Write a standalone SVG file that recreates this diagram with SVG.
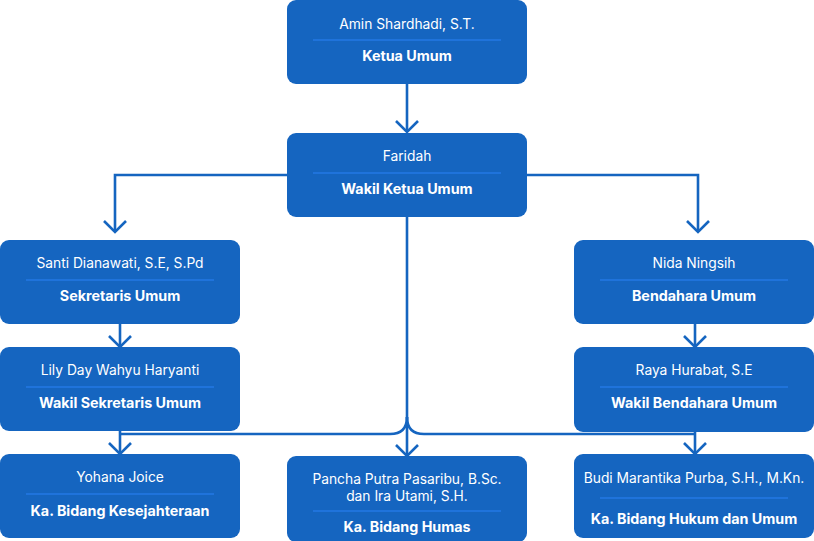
<svg xmlns="http://www.w3.org/2000/svg" width="814" height="541" viewBox="0 0 814 541">
<defs>
<style>
.box{fill:#1565C0;}
.sep{stroke:#2A82F5;stroke-width:1.2;}
.nm{font-family:Inter,"Open Sans","DejaVu Sans",sans-serif;font-size:13.8px;fill:#ffffff;text-anchor:middle;dominant-baseline:central;}
.rl{font-family:Inter,"Open Sans","DejaVu Sans",sans-serif;font-size:14.3px;font-weight:700;fill:#ffffff;text-anchor:middle;dominant-baseline:central;}
.ln{fill:none;stroke:#1565C0;stroke-width:2.6;}
</style>
<marker id="ah" viewBox="0 0 14 24" refX="12" refY="12" markerWidth="14" markerHeight="24" markerUnits="userSpaceOnUse" orient="auto">
<path d="M1 1 L12 12 L1 23" fill="none" stroke="#1565C0" stroke-width="2.6"/>
</marker>
</defs>
<rect width="814" height="541" fill="#ffffff"/>
<g id="connectors">
<path class="ln" d="M407 84 V132" marker-end="url(#ah)"/>
<path class="ln" d="M287 175 H115 V232" marker-end="url(#ah)"/>
<path class="ln" d="M527 175 H698 V232" marker-end="url(#ah)"/>
<path class="ln" d="M120 324 V347" marker-end="url(#ah)"/>
<path class="ln" d="M695 324 V347" marker-end="url(#ah)"/>
<path class="ln" d="M120 431 V454" marker-end="url(#ah)"/>
<path class="ln" d="M695 432 V454" marker-end="url(#ah)"/>
<path class="ln" d="M407 217 V456" marker-end="url(#ah)"/>
<path class="ln" d="M407 417 Q407 434 390 434 H120"/>
<path class="ln" d="M407 417 Q407 434 424 434 H695"/>
</g>
<g id="ketua">
<rect class="box" x="287" y="0" width="240" height="84" rx="9"/>
<text class="nm" x="407" y="24">Amin Shardhadi, S.T.</text>
<line class="sep" x1="313" y1="40" x2="501" y2="40"/>
<text class="rl" x="407" y="55">Ketua Umum</text>
</g>
<g id="wakil-ketua">
<rect class="box" x="287" y="133" width="240" height="84" rx="9"/>
<text class="nm" x="407" y="156">Faridah</text>
<line class="sep" x1="313" y1="173" x2="501" y2="173"/>
<text class="rl" x="407" y="188">Wakil Ketua Umum</text>
</g>
<g id="sekretaris">
<rect class="box" x="0" y="240" width="240" height="84" rx="9"/>
<text class="nm" x="120" y="263">Santi Dianawati, S.E, S.Pd</text>
<line class="sep" x1="26" y1="280" x2="214" y2="280"/>
<text class="rl" x="120" y="295">Sekretaris Umum</text>
</g>
<g id="wakil-sekretaris">
<rect class="box" x="0" y="347" width="240" height="84" rx="9"/>
<text class="nm" x="120" y="370">Lily Day Wahyu Haryanti</text>
<line class="sep" x1="26" y1="387" x2="214" y2="387"/>
<text class="rl" x="120" y="402">Wakil Sekretaris Umum</text>
</g>
<g id="kesejahteraan">
<rect class="box" x="0" y="454" width="240" height="84" rx="9"/>
<text class="nm" x="120" y="477">Yohana Joice</text>
<line class="sep" x1="26" y1="494" x2="214" y2="494"/>
<text class="rl" x="120" y="510">Ka. Bidang Kesejahteraan</text>
</g>
<g id="bendahara">
<rect class="box" x="574" y="240" width="240" height="84" rx="9"/>
<text class="nm" x="694" y="263">Nida Ningsih</text>
<line class="sep" x1="600" y1="280" x2="788" y2="280"/>
<text class="rl" x="694" y="295">Bendahara Umum</text>
</g>
<g id="wakil-bendahara">
<rect class="box" x="574" y="347" width="240" height="85" rx="9"/>
<text class="nm" x="694" y="370">Raya Hurabat, S.E</text>
<line class="sep" x1="600" y1="387" x2="788" y2="387"/>
<text class="rl" x="694" y="402">Wakil Bendahara Umum</text>
</g>
<g id="hukum">
<rect class="box" x="574" y="454" width="240" height="84" rx="9"/>
<text class="nm" x="694" y="478">Budi Marantika Purba, S.H., M.Kn.</text>
<line class="sep" x1="600" y1="498" x2="788" y2="498"/>
<text class="rl" x="694" y="518">Ka. Bidang Hukum dan Umum</text>
</g>
<g id="humas">
<rect class="box" x="287" y="456" width="240" height="86" rx="9"/>
<text class="nm" x="407" y="479">Pancha Putra Pasaribu, B.Sc.</text>
<text class="nm" x="407" y="496">dan Ira Utami, S.H.</text>
<line class="sep" x1="313" y1="511" x2="501" y2="511"/>
<text class="rl" x="407" y="526">Ka. Bidang Humas</text>
</g>
</svg>
